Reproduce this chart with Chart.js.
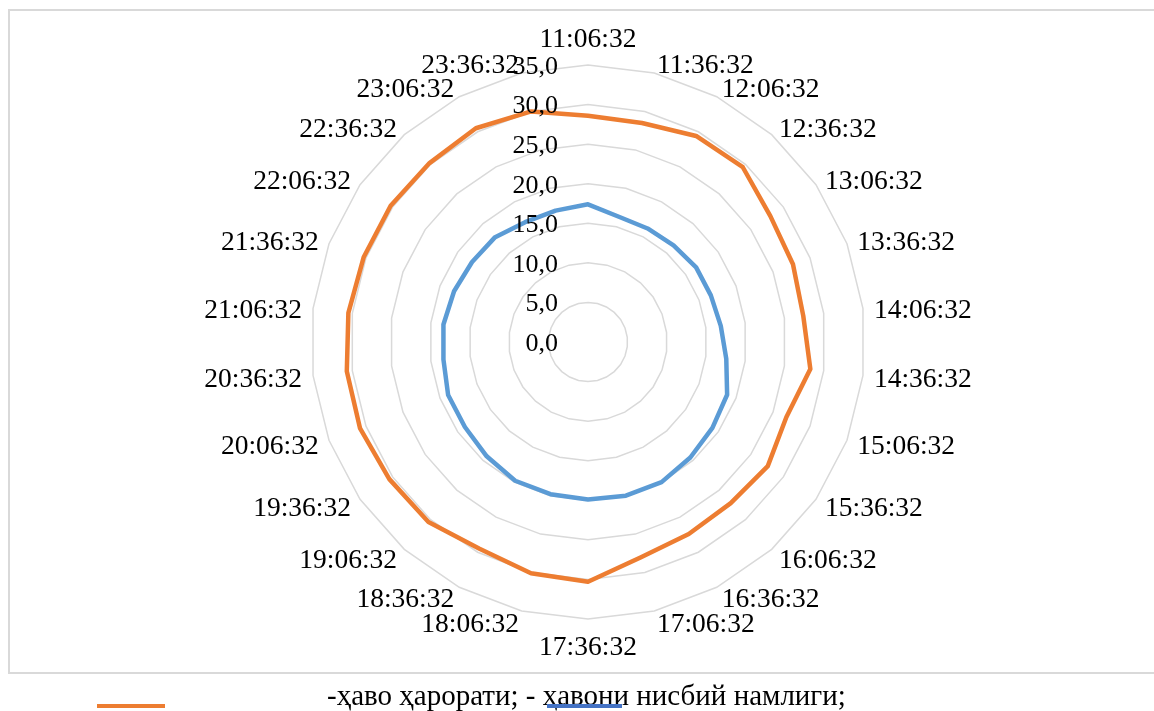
<!DOCTYPE html>
<html>
<head>
<meta charset="utf-8">
<script src="https://cdn.jsdelivr.net/npm/chart.js@4.4.1/dist/chart.umd.min.js"></script>
<style>
  body { margin: 0; background: #fff; overflow: hidden; }
  #wrap { position: relative; width: 1154px; height: 711px; overflow: hidden; font-family: "Liberation Serif", serif; }
  #plot { position: absolute; left: 0; top: 0; width: 1154px; height: 711px; }
  .swatch { position: absolute; height: 4px; }
  #capText { position: absolute; left: 327px; top: 679px; font-size: 29px; line-height: 33px; color: #000; white-space: nowrap; }
</style>
</head>
<body>
<div id="wrap">
  <div id="plot"><canvas id="radarChart"></canvas></div>
  <span class="swatch" style="left:97px; top:704px; width:68px; background:#ED7D31;"></span>
  <span id="capText">-ҳаво ҳарорати; - ҳавони нисбий намлиги;</span>
  <span class="swatch" style="left:547px; top:704px; width:75px; background:#4472C4;"></span>
</div>
<script>
// time stamps around the radar, clockwise from the top
const timeLabels = [
    '11:06:32', '11:36:32', '12:06:32', '12:36:32', '13:06:32', '13:36:32',
    '14:06:32', '14:36:32', '15:06:32', '15:36:32', '16:06:32', '16:36:32',
    '17:06:32', '17:36:32', '18:06:32', '18:36:32', '19:06:32', '19:36:32',
    '20:06:32', '20:36:32', '21:06:32', '21:36:32', '22:06:32', '22:36:32',
    '23:06:32', '23:36:32'
];

// ҳаво ҳарорати
const airTemp = [
    28.6, 28.5, 29.4, 29.5, 28.0, 27.7, 27.4, 28.3, 26.8, 27.6, 27.2, 27.4, 28.0,
    30.3, 30.1, 29.5, 30.4, 30.5, 30.8, 30.7, 30.5, 30.3, 30.3, 30.2, 30.5, 30.0
];

// ҳавони нисбий намлиги
const humidity = [
    17.4, 16.3, 16.2, 16.3, 16.6, 16.6, 16.9, 17.6, 18.8, 19.1, 19.5, 20.0, 20.0,
    19.9, 19.8, 19.8, 19.3, 18.9, 18.9, 18.4, 18.4, 18.1, 17.8, 17.7, 17.1, 17.1
];

const axisMin = 0;
const axisMax = 35;
const axisStep = 5;

// open chart frame (top, left, bottom) like the Word/Excel chart box
const chartFrame = {
    id: 'chartFrame',
    beforeDraw(chart) {
        const ctx = chart.ctx;
        ctx.save();
        ctx.strokeStyle = '#d9d9d9';
        ctx.lineWidth = 2;
        ctx.beginPath();
        ctx.moveTo(chart.width, 10);
        ctx.lineTo(9, 10);
        ctx.lineTo(9, 673);
        ctx.lineTo(chart.width, 673);
        ctx.stroke();
        ctx.restore();
    }
};

// Excel-style labels: value ticks left of the vertical axis, categories centred on their spoke
const excelLabels = {
    id: 'excelLabels',
    afterDatasetsDraw(chart) {
        const scale = chart.scales.r;
        const ctx = chart.ctx;
        ctx.save();
        ctx.fillStyle = '#000';

        ctx.font = '26px "Liberation Serif"';
        ctx.textAlign = 'right';
        ctx.textBaseline = 'middle';
        scale.ticks.forEach(t => {
            const y = scale.yCenter - scale.getDistanceFromCenterForValue(t.value);
            ctx.fillText(t.value.toFixed(1).replace('.', ','), scale.xCenter - 30, y + 2);
        });

        ctx.font = '27.5px "Liberation Serif"';
        const n = chart.data.labels.length;
        chart.data.labels.forEach((lab, i) => {
            const p = scale.getPointPosition(i, scale.drawingArea + 11);
            const deg = i * 360 / n;
            let dy = 3;
            if (deg === 0) {
                ctx.textAlign = 'center';
                ctx.textBaseline = 'bottom';
                dy = 0;
            } else if (deg === 180) {
                ctx.textAlign = 'center';
                ctx.textBaseline = 'top';
                dy = 4;
            } else {
                ctx.textAlign = deg < 180 ? 'left' : 'right';
                ctx.textBaseline = 'middle';
            }
            ctx.fillText(lab, p.x, p.y + dy);
        });
        ctx.restore();
    }
};

document.addEventListener("DOMContentLoaded", function () {
    const ctx = document.getElementById('radarChart').getContext('2d');
    new Chart(ctx, {
        type: 'radar',
        data: {
            labels: timeLabels,
            datasets: [
                {
                    label: 'ҳаво ҳарорати',
                    data: airTemp,
                    borderColor: '#ED7D31',
                    borderWidth: 4.5,
                    borderJoinStyle: 'round',
                    pointRadius: 0,
                    fill: false
                },
                {
                    label: 'ҳавони нисбий намлиги',
                    data: humidity,
                    borderColor: '#5B9BD5',
                    borderWidth: 4.5,
                    borderJoinStyle: 'round',
                    pointRadius: 0,
                    fill: false
                }
            ]
        },
        options: {
            responsive: true,
            maintainAspectRatio: false,
            animation: false,
            layout: {
                padding: { left: 22, right: 0, top: 65, bottom: 92 }
            },
            plugins: {
                legend: { display: false },
                tooltip: { enabled: false }
            },
            scales: {
                r: {
                    min: axisMin,
                    max: axisMax,
                    ticks: { stepSize: axisStep, display: false },
                    grid: { circular: false, color: '#d9d9d9', lineWidth: 1.5 },
                    angleLines: { display: false },
                    pointLabels: { display: false }
                }
            }
        },
        plugins: [chartFrame, excelLabels]
    });
});
</script>
</body>
</html>
